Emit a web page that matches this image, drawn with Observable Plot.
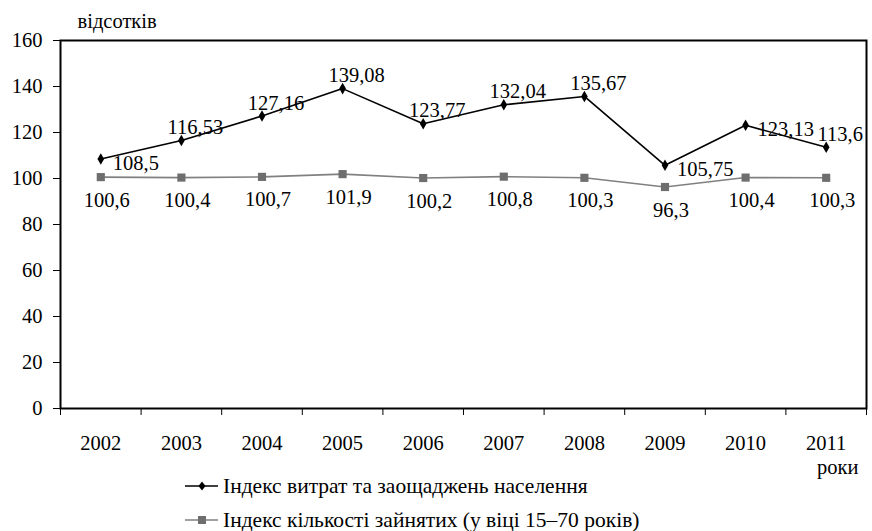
<!DOCTYPE html>
<html>
<head>
<meta charset="utf-8">
<script src="https://cdn.jsdelivr.net/npm/d3@7"></script>
<script src="https://cdn.jsdelivr.net/npm/@observablehq/plot@0.6"></script>
<style>
  body { margin: 0; background: white; font-family: "Liberation Serif", "Times New Roman", serif; }
  #chart svg { overflow: visible; }
  #chart svg text { font-family: "Liberation Serif", "Times New Roman", serif !important; }
  .legend { margin-top: -9px; padding-left: 185px; font-size: 21.5px; line-height: 34px; color: #000; font-family: "Liberation Serif", "Times New Roman", serif; }
  .legend .row { display: flex; align-items: center; height: 34px; }
  .legend svg { margin-right: 5px; }
</style>
</head>
<body>
<div id="chart"></div>
<div class="legend" id="legend"></div>
<script>
const years = [2002, 2003, 2004, 2005, 2006, 2007, 2008, 2009, 2010, 2011];
const spending = [108.5, 116.53, 127.16, 139.08, 123.77, 132.04, 135.67, 105.75, 123.13, 113.6];
const employed = [100.6, 100.4, 100.7, 101.9, 100.2, 100.8, 100.3, 96.3, 100.4, 100.3];
const spendingLabelPlace = ["right", "above", "above", "above", "above", "above", "above", "right", "right", "above"];
const yTicks = [0, 20, 40, 60, 80, 100, 120, 140, 160];
const seriesNames = ["Індекс витрат та заощаджень населення", "Індекс кількості зайнятих (у віці 15–70 років)"];
const yLabel = "відсотків";
const xLabel = "роки";

const fmt = v => String(v).replace(".", ",");
const spendData = years.map((y, i) => ({year: y, value: spending[i], place: spendingLabelPlace[i]}));
const empData = years.map((y, i) => ({year: y, value: employed[i]}));
const bandEdges = d3.range(years[0] - 0.5, years[years.length - 1] + 1, 1);

const serif = "Liberation Serif";
const plot = Plot.plot({
  width: 872,
  height: 478,
  marginLeft: 60,
  marginRight: 6,
  marginTop: 40,
  marginBottom: 70,
  style: {fontFamily: serif, fontSize: "20px", color: "#000", background: "white"},
  x: {domain: [years[0] - 0.5, years[years.length - 1] + 0.5]},
  y: {domain: [0, 160]},
  marks: [
    Plot.frame({stroke: "#000", strokeWidth: 2}),
    Plot.axisY({ticks: yTicks, tickSize: 7, tickPadding: 11, label: null, fontSize: 20.5, fontFamily: serif, stroke: "#000"}),
    Plot.axisX({ticks: bandEdges, tickSize: 7, tickFormat: () => "", label: null, stroke: "#000"}),
    Plot.axisX({ticks: years, tickSize: 0, tickPadding: 27, tickFormat: d => String(d), label: null, fontSize: 20.5, fontFamily: serif}),
    Plot.line(empData, {x: "year", y: "value", stroke: "#808080", strokeWidth: 1.6}),
    Plot.dot(empData, {x: "year", y: "value", symbol: "square", r: 4.6, fill: "#6e6e6e", stroke: "none"}),
    Plot.line(spendData, {x: "year", y: "value", stroke: "#000", strokeWidth: 1.6}),
    Plot.dot(spendData, {x: "year", y: "value", symbol: "diamond", r: 3.5, fill: "#000", stroke: "none"}),
    Plot.text(spendData.filter(d => d.place === "above"), {x: "year", y: "value", text: d => fmt(d.value), dx: 14, dy: -13, fontSize: 20.5, fontFamily: serif, fill: "#000"}),
    Plot.text(spendData.filter(d => d.place === "right"), {x: "year", y: "value", text: d => fmt(d.value), dx: 12, dy: 4, textAnchor: "start", fontSize: 20.5, fontFamily: serif, fill: "#000"}),
    Plot.text(empData, {x: "year", y: "value", text: d => fmt(d.value), dx: 6, dy: 23, fontSize: 20.5, fontFamily: serif, fill: "#000"}),
    Plot.text([yLabel], {frameAnchor: "top-left", text: d => d, dx: 17, dy: -19, lineAnchor: "middle", textAnchor: "start", fontSize: 20.5, fontFamily: serif, fill: "#000"}),
    Plot.text([xLabel], {frameAnchor: "bottom-right", text: d => d, dx: -8, dy: 59, lineAnchor: "middle", textAnchor: "end", fontSize: 20.5, fontFamily: serif, fill: "#000"})
  ]
});
document.getElementById("chart").appendChild(plot);

const legend = document.getElementById("legend");
const swatches = [
  `<svg width="33" height="14"><line x1="0" y1="7" x2="33" y2="7" stroke="#000" stroke-width="1.6"/><path d="M17,2.5 L20.5,7 L17,11.5 L13.5,7 Z" fill="#000"/></svg>`,
  `<svg width="33" height="14"><line x1="0" y1="7" x2="33" y2="7" stroke="#808080" stroke-width="1.6"/><rect x="13" y="3" width="8" height="8" fill="#6e6e6e"/></svg>`
];
seriesNames.forEach((name, i) => {
  const row = document.createElement("div");
  row.className = "row";
  row.innerHTML = swatches[i] + `<span>${name}</span>`;
  legend.appendChild(row);
});
</script>
</body>
</html>
